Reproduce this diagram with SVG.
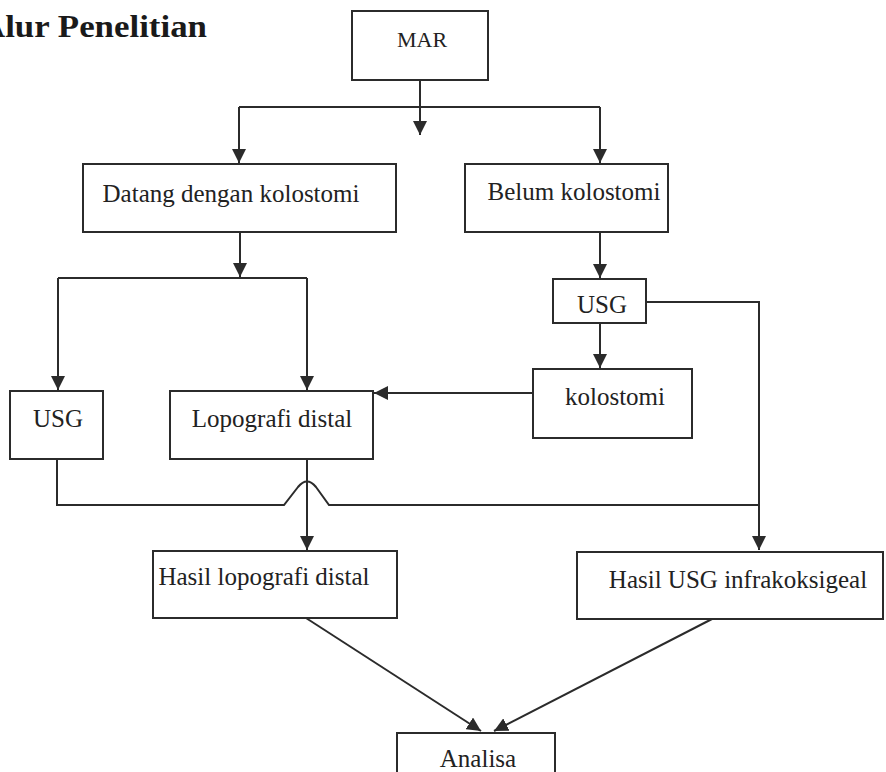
<svg xmlns="http://www.w3.org/2000/svg" width="886" height="772" viewBox="0 0 886 772">
<style>
.box{fill:#fff;stroke:#2b2b2b;stroke-width:2}
.t{font-family:"Liberation Serif","Times New Roman",serif;font-size:25px;fill:#222;text-anchor:middle}
.c{fill:none;stroke:#2b2b2b;stroke-width:2}
.title{font-family:"Liberation Serif","Times New Roman",serif;font-weight:bold;font-size:32px;fill:#1a1a1a}
</style>
<defs>
<marker id="ah" viewBox="0 0 10 10" refX="10" refY="5" markerWidth="14" markerHeight="14" markerUnits="userSpaceOnUse" orient="auto">
<path d="M0,0 L10,5 L0,10 z" fill="#2b2b2b"/>
</marker>
</defs>
<rect width="886" height="772" fill="#fff"/>
<text class="title" x="-20" y="37" textLength="227" lengthAdjust="spacingAndGlyphs">Alur Penelitian</text>

<g id="connectors">
<path class="c" d="M420,80 V135" marker-end="url(#ah)"/>
<path class="c" d="M239,107 H600"/>
<path class="c" d="M239,107 V163" marker-end="url(#ah)"/>
<path class="c" d="M600,107 V163" marker-end="url(#ah)"/>
<path class="c" d="M240,232 V277" marker-end="url(#ah)"/>
<path class="c" d="M58,278 H307"/>
<path class="c" d="M58,278 V390" marker-end="url(#ah)"/>
<path class="c" d="M307,278 V390" marker-end="url(#ah)"/>
<path class="c" d="M600,232 V278" marker-end="url(#ah)"/>
<path class="c" d="M600,323 V368" marker-end="url(#ah)"/>
<path class="c" d="M533,393 H374" marker-end="url(#ah)"/>
<path class="c" d="M646,302 H759 V550" marker-end="url(#ah)"/>
<path class="c" d="M57,459 V505 H284 L298,487 Q307,476 316,487 L329,505 H759"/>
<path class="c" d="M307,459 V550" marker-end="url(#ah)"/>
<path class="c" d="M306,618 L481,731" marker-end="url(#ah)"/>
<path class="c" d="M712,619 L494,731" marker-end="url(#ah)"/>
</g>

<g id="mar"><rect class="box" x="352" y="11" width="136" height="69"/><text class="t" x="422" y="47" style="font-size:22px">MAR</text></g>
<g id="datang"><rect class="box" x="83" y="164" width="313" height="68"/><text class="t" x="231" y="202">Datang dengan kolostomi</text></g>
<g id="belum"><rect class="box" x="465" y="164" width="203" height="68"/><text class="t" x="574" y="200">Belum kolostomi</text></g>
<g id="usg-right"><rect class="box" x="553" y="279" width="93" height="44"/><text class="t" x="602" y="313">USG</text></g>
<g id="kolostomi"><rect class="box" x="533" y="369" width="159" height="69"/><text class="t" x="615" y="405">kolostomi</text></g>
<g id="usg-left"><rect class="box" x="10" y="391" width="93" height="68"/><text class="t" x="58" y="427">USG</text></g>
<g id="lopografi"><rect class="box" x="170" y="391" width="203" height="68"/><text class="t" x="272" y="427">Lopografi distal</text></g>
<g id="hasil-lopografi"><rect class="box" x="153" y="551" width="244" height="67"/><text class="t" x="264" y="585">Hasil lopografi distal</text></g>
<g id="hasil-usg"><rect class="box" x="577" y="552" width="306" height="67"/><text class="t" x="738" y="588">Hasil USG infrakoksigeal</text></g>
<g id="analisa"><rect class="box" x="397" y="733" width="158" height="60"/><text class="t" x="478" y="767">Analisa</text></g>
</svg>
